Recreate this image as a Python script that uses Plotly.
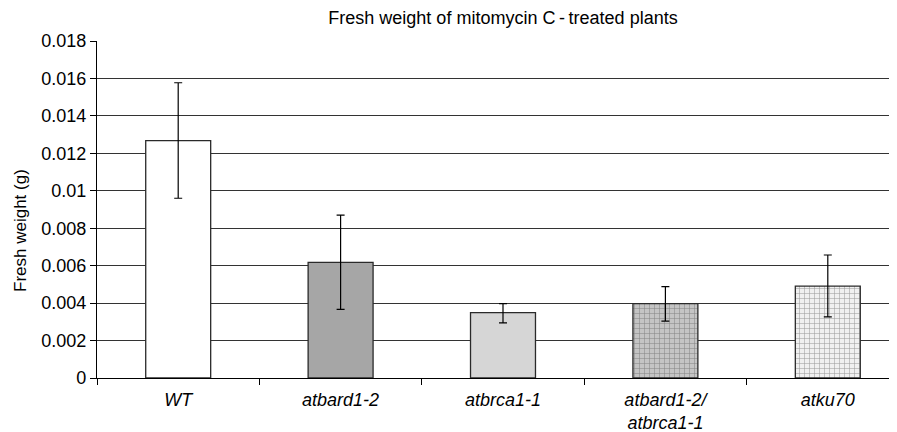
import plotly.graph_objects as go

categories = ["WT", "atbard1-2", "atbrca1-1", "atbard1-2/<br>atbrca1-1", "atku70"]
values = [0.01268, 0.00618, 0.00349, 0.00397, 0.00491]
err_upper = [0.01577, 0.0087, 0.00397, 0.00488, 0.00657]
err_lower = [0.0096, 0.00367, 0.00294, 0.00304, 0.00327]
tick_vals = [0, 0.002, 0.004, 0.006, 0.008, 0.01, 0.012, 0.014, 0.016, 0.018]
tick_text = ["0", "0.002", "0.004", "0.006", "0.008", "0.01", "0.012", "0.014", "0.016", "0.018"]

bar_colors = ["#ffffff", "#a6a6a6", "#d6d6d6", "#c4c4c4", "#f0f0f0"]
pattern_shapes = ["", "", "", "+", "+"]
pattern_fg = ["#ffffff", "#a6a6a6", "#d6d6d6", "#a8a8a8", "#c8c8c8"]

labels = [f"<i>{c}</i>" for c in categories]

# page body has an 8px default margin; figure sized so it fits the 897x432 window
W, H, OFF = 889, 424, 8
L, T = 97 - OFF, 41 - OFF
B = H + OFF - 378

fig = go.Figure()
fig.add_trace(go.Bar(
    x=labels,
    y=values,
    width=0.4,
    marker=dict(
        color=bar_colors,
        line=dict(color="#2a2a2a", width=1.3),
        pattern=dict(shape=pattern_shapes, fgcolor=pattern_fg, size=5,
                     solidity=0.2, fillmode="overlay"),
    ),
    error_y=dict(
        type="data",
        symmetric=False,
        array=[u - v for u, v in zip(err_upper, values)],
        arrayminus=[v - l for v, l in zip(values, err_lower)],
        color="#000000",
        thickness=1.2,
        width=4,
    ),
))

plot_w = W - L
fig.update_layout(
    width=W, height=H,
    margin=dict(l=L, r=0, t=T, b=B, autoexpand=False),
    paper_bgcolor="white", plot_bgcolor="white",
    font=dict(family="Liberation Sans, Arial, sans-serif", color="#000000", size=17),
    title=dict(text="Fresh weight of mitomycin C\u2009-\u2009treated plants",
               x=(503 - OFF) / W, xanchor="center",
               y=1 - (18 - OFF) / H, yanchor="middle", font=dict(size=18)),
    showlegend=False,
    annotations=[dict(
        text="Fresh weight (g)", textangle=-90, showarrow=False,
        xref="paper", yref="paper",
        x=(21 - OFF - L) / plot_w, y=(378 - 231) / (378 - 41),
        xanchor="center", yanchor="middle", font=dict(size=17),
    )],
)
fig.update_xaxes(
    range=[-0.5, -0.5 + plot_w / 162.4],
    automargin=False,
    showline=True, linecolor="#000000", linewidth=1.3,
    ticks="outside", tickson="boundaries", ticklen=6, tickcolor="#000000",
    showgrid=False, tickfont=dict(size=18), ticklabelstandoff=5,
)
fig.update_yaxes(
    range=[0, 0.018],
    automargin=False,
    tickvals=tick_vals, ticktext=tick_text,
    showline=True, linecolor="#000000", linewidth=1.3,
    ticks="outside", ticklen=6, tickcolor="#000000",
    showgrid=True, gridcolor="#333333", gridwidth=1.2,
    zeroline=False,
    tickfont=dict(size=18),
)

fig.write_html("out.html")
